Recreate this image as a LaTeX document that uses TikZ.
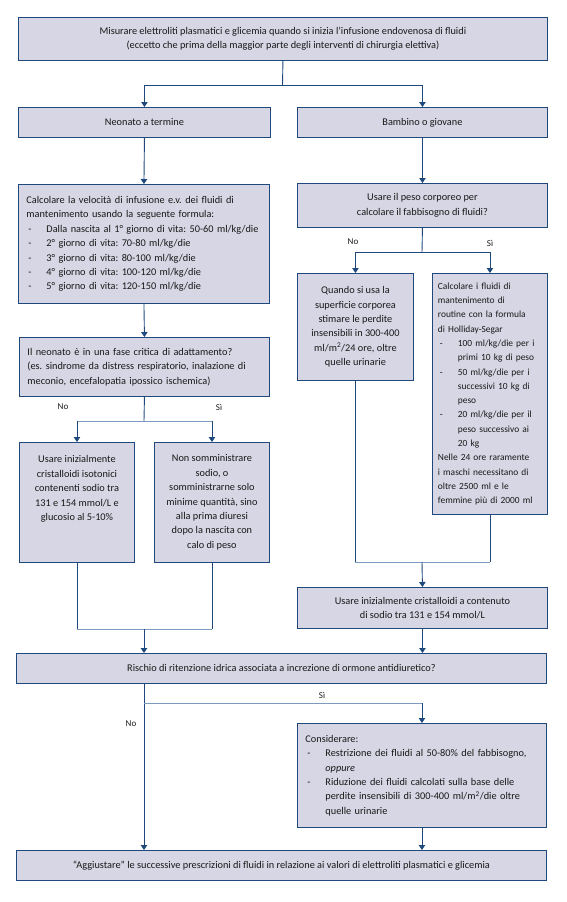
\documentclass[tikz,border=0pt]{standalone}
\usepackage{fontspec}
\setmainfont{Carlito}
\usetikzlibrary{arrows.meta}
\definecolor{boxfill}{RGB}{214,214,228}
\definecolor{boxline}{RGB}{31,73,125}
\definecolor{joinline}{RGB}{125,154,192}
\newcommand{\itm}[1]{\hspace*{2pt}\makebox[18pt][l]{-}#1}
\newcommand{\cnt}[1]{\hspace*{20pt}#1}
\frenchspacing
\begin{document}
\begin{tikzpicture}[x=1pt, y=1pt,
    box/.style={draw=boxline, fill=boxfill, line width=0.9pt, inner sep=0pt, anchor=north west,
        align=center, text=black!90, font=\fontsize{10.3}{14.4}\selectfont},
    lbox/.style={box, align=left, inner xsep=8pt},
    link/.style={draw=boxline, line width=0.9pt},
    arr/.style={link, -{Triangle[width=6.5pt,length=5pt]}},
    joinl/.style={draw=joinline, line width=1pt},
    lab/.style={font=\fontsize{9}{11}\selectfont, text=black!90}]
    \useasboundingbox (0,0) rectangle (567,-902);
    % top
    \node[box, minimum width=529pt, minimum height=43pt] (top) at (18,-17) {Misurare elettroliti plasmatici e glicemia quando si inizia l’infusione endovenosa di fluidi\\(eccetto che prima della maggior parte degli interventi di chirurgia elettiva)};
    \node[box, minimum width=252pt, minimum height=30pt] (neo) at (18,-107) {Neonato a termine};
    \node[box, minimum width=250pt, minimum height=30pt] (bam) at (297,-107) {Bambino o giovane};
    \coordinate (j1) at (282.5,-85);
    \draw[link] (top.south) -- (j1);
    \draw[arr] (j1) -| (neo.north);
    \draw[arr] (j1) -| (bam.north);
    % neonato
    \node[lbox, text width=235pt, minimum height=119pt] (calc) at (18,-184) {Calcolare la velocità di infusione e.v. dei fluidi di\\mantenimento usando la seguente formula:\\
        \itm{Dalla nascita al 1° giorno di vita: 50-60 ml/kg/die}\\
        \itm{2° giorno di vita: 70-80 ml/kg/die}\\
        \itm{3° giorno di vita: 80-100 ml/kg/die}\\
        \itm{4° giorno di vita: 100-120 ml/kg/die}\\
        \itm{5° giorno di vita: 120-150 ml/kg/die}};
    \draw[arr] (neo.south) -- (calc.north);
    \node[lbox, text width=234pt, minimum height=59pt] (crit) at (19,-337) {Il neonato è in una fase critica di adattamento?\\(es. sindrome da distress respiratorio, inalazione di\\meconio, encefalopatia ipossico ischemica)};
    \draw[arr] (calc.south) -- (crit.north);
    \node[box, minimum width=115pt, minimum height=120pt] (iso) at (19,-442) {Usare inizialmente\\cristalloidi isotonici\\contenenti sodio tra\\131 e 154 mmol/L e\\glucosio al 5-10\%\\\mbox{}\\\mbox{}};
    \node[box, minimum width=115pt, minimum height=120pt] (nosod) at (154,-442) {Non somministrare\\sodio, o\\somministrarne solo\\minime quantità, sino\\alla prima diuresi\\dopo la nascita con\\calo di peso};
    \coordinate (j2) at (144,-421);
    \draw[link] (crit.south) -- (j2);
    \draw[joinl] (j2 -| iso.north) -- (j2 -| nosod.north);
    \draw[arr] (j2 -| iso.north) -- (iso.north);
    \draw[arr] (j2 -| nosod.north) -- (nosod.north);
    \node[lab] (no1) at (63,-407) {No};
    \node[lab] (si1) at (219,-407) {Sì};
    % bambino
    \node[box, minimum width=250pt, minimum height=44pt] (peso) at (297,-183) {Usare il peso corporeo per\\calcolare il fabbisogno di fluidi?};
    \draw[arr] (bam.south) -- (peso.north);
    \node[box, minimum width=116pt, minimum height=107pt] (sup) at (297,-273) {Quando si usa la\\superficie corporea\\stimare le perdite\\insensibili in 300-400\\ml/m\textsuperscript{2}/24 ore, oltre\\quelle urinarie};
    \node[lbox, text width=104pt, inner xsep=5.5pt, minimum height=241pt, font=\fontsize{9.4}{14.3}\selectfont] (holl) at (432,-273) {Calcolare i fluidi di\\mantenimento di\\routine con la formula\\di Holliday-Segar\\
        \itm{100 ml/kg/die per i}\\\cnt{primi 10 kg di peso}\\
        \itm{50 ml/kg/die per i}\\\cnt{successivi 10 kg di}\\\cnt{peso}\\
        \itm{20 ml/kg/die per il}\\\cnt{peso successivo ai}\\\cnt{20 kg}\\
        Nelle 24 ore raramente\\i maschi necessitano di\\oltre 2500 ml e le\\femmine più di 2000 ml};
    \coordinate (j4) at (422,-252);
    \draw[link] (peso.south) -- (j4);
    \draw[arr] (j4) -| (sup.north);
    \draw[arr] (j4) -| (holl.north);
    \node[lab] (no2) at (353,-242) {No};
    \node[lab] (si2) at (490,-243) {Sì};
    \node[box, minimum width=250pt, minimum height=41pt] (cris) at (297,-587) {Usare inizialmente cristalloidi a contenuto\\di sodio tra 131 e 154 mmol/L};
    \coordinate (j5) at (422,-562);
    \draw[link] (sup.south) -- (sup.south |- j5);
    \draw[link] (holl.south) -- (holl.south |- j5);
    \draw[joinl] (sup.south |- j5) -- (holl.south |- j5);
    \draw[arr] (j5) -- (cris.north);
    % rischio
    \node[box, minimum width=530pt, minimum height=30pt] (risk) at (16,-653) {Rischio di ritenzione idrica associata a increzione di ormone antidiuretico?};
    \coordinate (j3) at (144,-629);
    \draw[link] (iso.south) -- (iso.south |- j3);
    \draw[link] (nosod.south) -- (nosod.south |- j3);
    \draw[joinl] (iso.south |- j3) -- (nosod.south |- j3);
    \draw[arr] (j3) -- (j3 |- risk.north);
    \draw[arr] (cris.south) -- (cris.south |- risk.north);
    \node[lbox, text width=233pt, minimum height=104pt] (cons) at (297,-723) {Considerare:\\
        \itm{Restrizione dei fluidi al 50-80\% del fabbisogno,}\\\cnt{\textit{oppure}}\\
        \itm{Riduzione dei fluidi calcolati sulla base delle}\\\cnt{perdite insensibili di 300-400 ml/m\textsuperscript{2}/die oltre}\\\cnt{quelle urinarie}};
    \node[box, minimum width=530pt, minimum height=30pt] (adj) at (16,-850) {“Aggiustare” le successive prescrizioni di fluidi in relazione ai valori di elettroliti plasmatici e glicemia};
    \coordinate (j6) at (144,-703);
    \draw[arr] (j3 |- risk.south) -- (j3 |- adj.north);
    \draw[joinl] (j6) -- (j6 -| cons.north);
    \draw[arr] (j6 -| cons.north) -- (cons.north);
    \draw[arr] (cons.south) -- (cons.south |- adj.north);
    \node[lab] (si3) at (322,-695) {Sì};
    \node[lab] (no3) at (131,-724) {No};
\end{tikzpicture}
\end{document}
